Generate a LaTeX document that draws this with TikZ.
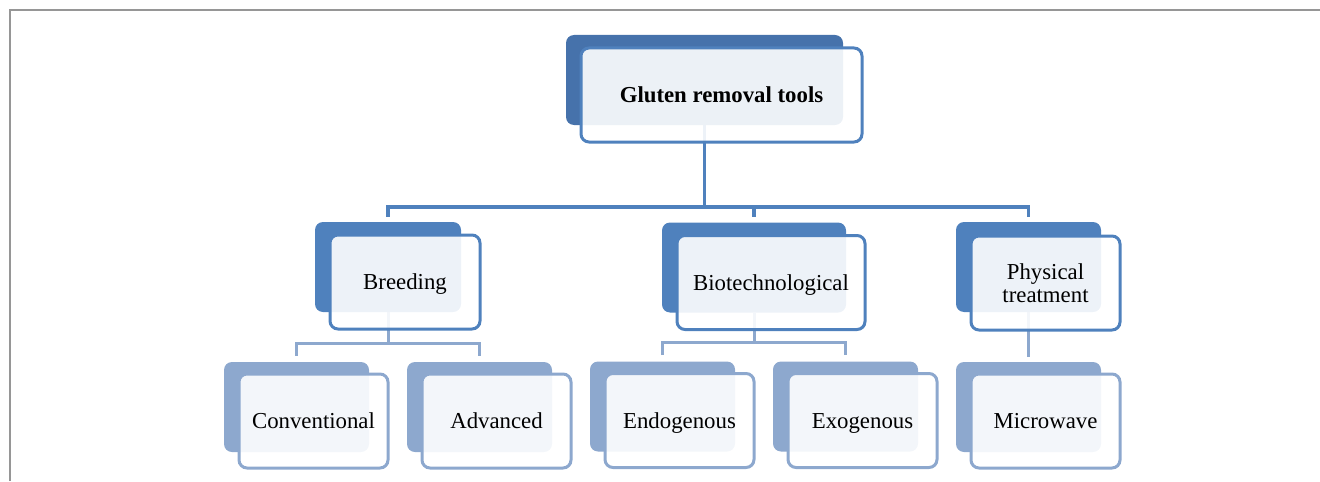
\documentclass[tikz,border=0pt]{standalone}
\usepackage{fontspec}
\setmainfont{Liberation Serif}
\definecolor{topblue}{RGB}{70,114,171}
\definecolor{main}{RGB}{79,129,189}
\definecolor{soft}{RGB}{141,168,206}
\definecolor{framegray}{RGB}{150,150,150}
\usetikzlibrary{positioning, backgrounds, calc}

\begin{document}
\begin{tikzpicture}[x=0.5pt, y=-0.5pt, every node/.style={font=\fontsize{11.4}{11.6}\selectfont},
    backbox/.style={rounded corners=4pt, inner sep=0pt, minimum height=45pt},
    frontbox/.style={draw, rounded corners=4pt, line width=1.5pt, fill=white, fill opacity=0.9, text opacity=1, inner sep=0pt, minimum height=47pt, align=center},
    oneline/.style={text height=7.6pt, text depth=0pt},
    link/.style={line width=1.6pt, main},
    sublink/.style={line width=1.5pt, soft}]
            \useasboundingbox (0,0) rectangle (1320,481);
            \draw[framegray, line width=1pt] (10,481) -- (10,10) -- (1320,10);

            \node[backbox, fill=topblue, minimum width=138.5pt] (root) at (704.5,80) {};
            \node[backbox, fill=main, minimum width=73pt] (breed) at (388,267) {};
            \node[backbox, fill=main, minimum width=92pt] (biotech) at (754,267.5) {};
            \node[backbox, fill=main, minimum width=72.5pt] (phys) at (1028.5,267) {};
            \node[backbox, fill=soft, minimum width=72.5pt] (conv) at (296.5,407) {};
            \node[backbox, fill=soft, minimum width=72.5pt] (adv) at (479.5,407) {};
            \node[backbox, fill=soft, minimum width=72.5pt] (endo) at (662.5,406.5) {};
            \node[backbox, fill=soft, minimum width=72.5pt] (exo) at (845.5,406.5) {};
            \node[backbox, fill=soft, minimum width=72.5pt] (micro) at (1028.5,407) {};

            \begin{scope}[on background layer]
                \coordinate (bus) at (704.5,207);
                \draw[link] (root.south) -- (bus);
                \draw[link] ([yshift=2.5pt]breed.north) |- (bus -| phys.north) -- ([yshift=2.5pt]phys.north);
                \draw[link] (bus -| biotech.north) -- ([yshift=2.5pt]biotech.north);
                \draw[sublink] (breed.south) -- ++(0,31);
                \draw[sublink] ([yshift=3pt]conv.north) |- ($(breed.south)+(0,31)$) -| ([yshift=3pt]adv.north);
                \draw[sublink] (biotech.south) -- ++(0,30);
                \draw[sublink] ([yshift=3pt]endo.north) |- ($(biotech.south)+(0,30)$) -| ([yshift=3pt]exo.north);
                \draw[sublink] (phys.south) -- ([yshift=2.5pt]micro.north);
            \end{scope}

            \node[frontbox, oneline, draw=main, minimum width=140.5pt, font=\fontsize{11.4}{11.6}\selectfont\bfseries] (root-f) at ([shift={(17,15)}]root.center) {Gluten removal tools};
            \node[frontbox, oneline, draw=main, minimum width=75pt] (breed-f) at ([shift={(17,15)}]breed.center) {Breeding};
            \node[frontbox, oneline, draw=main, minimum width=94pt] (biotech-f) at ([shift={(17,15)}]biotech.center) {Biotechnological};
            \node[frontbox, draw=main, minimum width=74.5pt] (phys-f) at ([shift={(17,16)}]phys.center) {Physical\\treatment};
            \node[frontbox, oneline, draw=soft, minimum width=74.5pt] (conv-f) at ([shift={(17,14)}]conv.center) {Conventional};
            \node[frontbox, oneline, draw=soft, minimum width=74.5pt] (adv-f) at ([shift={(17,14)}]adv.center) {Advanced};
            \node[frontbox, oneline, draw=soft, minimum width=74.5pt] (endo-f) at ([shift={(17,14)}]endo.center) {Endogenous};
            \node[frontbox, oneline, draw=soft, minimum width=74.5pt] (exo-f) at ([shift={(17,14)}]exo.center) {Exogenous};
            \node[frontbox, oneline, draw=soft, minimum width=74.5pt] (micro-f) at ([shift={(17,14)}]micro.center) {Microwave};
        \end{tikzpicture}
\end{document}
